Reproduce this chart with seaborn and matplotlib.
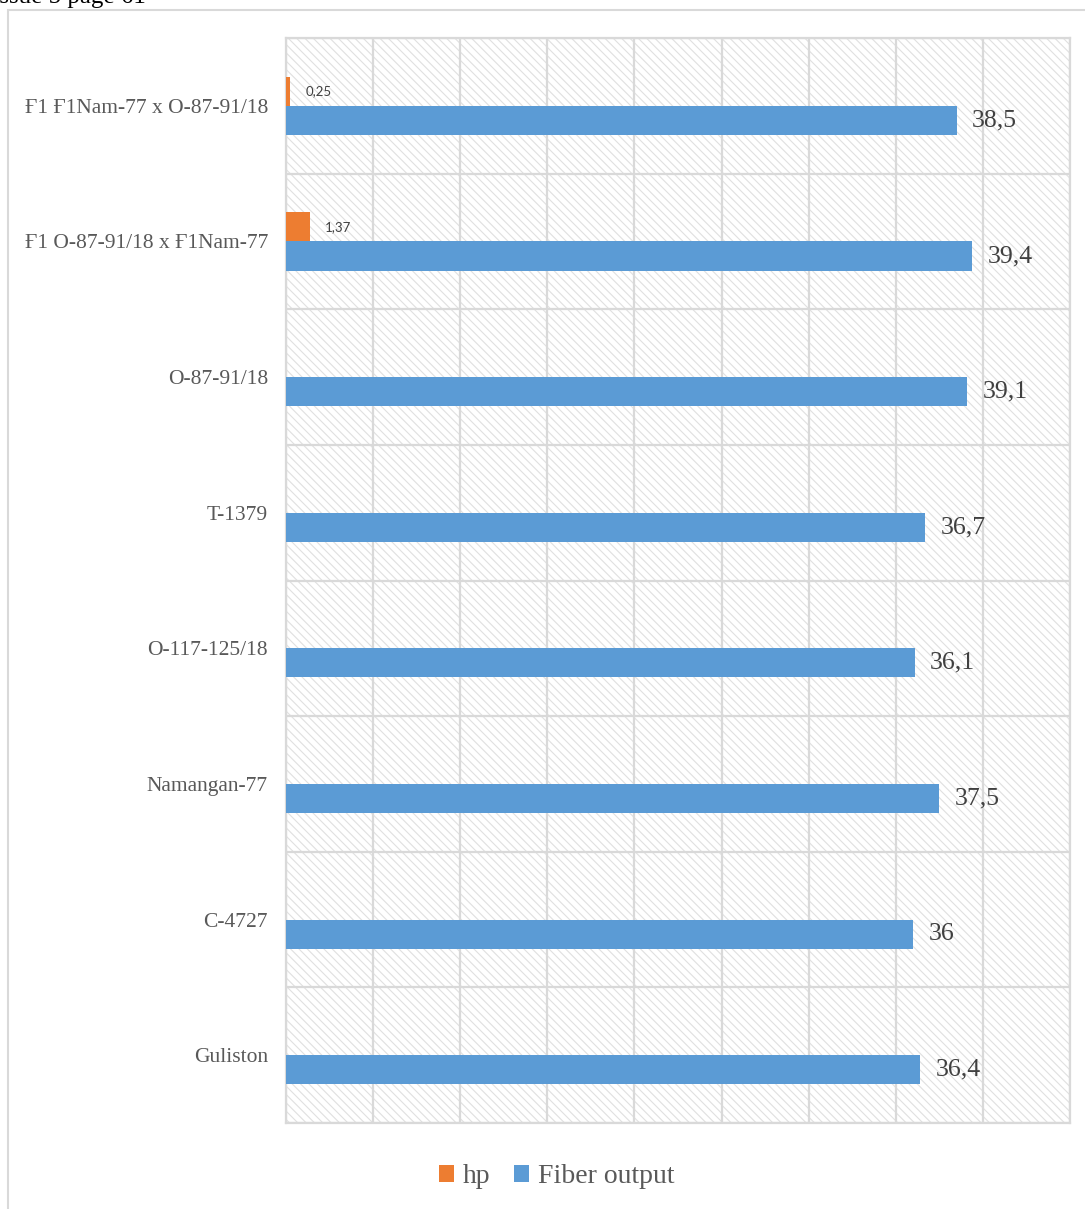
import pandas as pd
import seaborn as sns
import matplotlib.pyplot as plt
import numpy as np
from matplotlib.patches import Rectangle, Patch

# Data (top to bottom as shown)
varieties = [
    "Ғ1 Ғ1Nam-77 x O-87-91/18",
    "Ғ1 O-87-91/18 x Ғ1Nam-77",
    "O-87-91/18",
    "T-1379",
    "O-117-125/18",
    "Namangan-77",
    "C-4727",
    "Guliston",
]
fiber_output = [38.5, 39.4, 39.1, 36.7, 36.1, 37.5, 36.0, 36.4]
hp_varieties = ["Ғ1 Ғ1Nam-77 x O-87-91/18", "Ғ1 O-87-91/18 x Ғ1Nam-77"]
hp_values = [0.25, 1.37]

series = ["hp", "Fiber output"]
colors = {"hp": "#ED7D31", "Fiber output": "#5B9BD5"}

# Long format table for seaborn
df = pd.concat([
    pd.DataFrame({"Variety": hp_varieties, "Value": hp_values, "Series": "hp"}),
    pd.DataFrame({"Variety": varieties, "Value": fiber_output, "Series": "Fiber output"}),
], ignore_index=True)

serif = ["Liberation Serif", "DejaVu Serif"]
text_col = "#595959"
grid_col = "#D9D9D9"
plt.rcParams["hatch.linewidth"] = 0.8

fig = plt.figure(figsize=(10.85, 12.09), dpi=100)
ax = fig.add_axes([286 / 1085, 1 - 1123 / 1209, (1070 - 286) / 1085, (1123 - 38) / 1209])

# hatched plot background
ax.add_patch(Rectangle((0, 0), 1, 1, transform=ax.transAxes, facecolor="white",
                       edgecolor="#E0E0E0", hatch="\\\\\\\\", linewidth=0, zorder=0))

sns.barplot(data=df, y="Variety", x="Value", hue="Series", order=varieties,
            hue_order=series, palette=colors, width=0.43, orient="h",
            saturation=1, legend=False, ax=ax, zorder=3)

ax.set_xlim(0, 45)
ax.set_ylim(len(varieties) - 0.5, -0.5)
ax.set_xticks(np.arange(0, 46, 5))
ax.set_xticklabels([])
ax.set_yticks(np.arange(-0.5, len(varieties), 1), minor=True)
ax.grid(axis="x", which="major", color=grid_col, linewidth=1.6, zorder=1)
ax.grid(axis="y", which="minor", color=grid_col, linewidth=1.6, zorder=1)
ax.set_axisbelow(True)
ax.tick_params(axis="both", which="both", length=0)
ax.tick_params(axis="y", pad=13)
for lbl in ax.get_yticklabels():
    lbl.set_fontfamily(serif)
    lbl.set_fontsize(15.5)
    lbl.set_color(text_col)
for s in ax.spines.values():
    s.set_color(grid_col)
    s.set_linewidth(1.6)
ax.set_xlabel("")
ax.set_ylabel("")

fmt = lambda v: f"{v:g}".replace(".", ",")
for cont in ax.containers:
    if cont.get_label() == "hp" or any(abs(b.get_width() - hp_values[0]) < 1e-9 for b in cont):
        ax.bar_label(cont, fmt=fmt, padding=11, fontsize=9.5, family="Lato", color="#404040")
    else:
        ax.bar_label(cont, fmt=fmt, padding=11, fontsize=18.5, family=serif, color="#404040")

handles = [Patch(facecolor=colors[s], edgecolor="none") for s in series]
fig.legend(handles, series, loc="center", bbox_to_anchor=(0.513, 0.0265), ncol=2,
           frameon=False, handlelength=0.55, handleheight=0.55, handletextpad=0.3,
           columnspacing=0.85, prop={"family": serif, "size": 20}, labelcolor=text_col)

# outer chart frame and page header (cut off in the source)
fig.patches.append(Rectangle((8 / 1085, -0.1), 1.2, 1.1 - 10 / 1209, transform=fig.transFigure,
                             facecolor="none", edgecolor=grid_col, linewidth=1.5, zorder=0))
fig.text(-0.008, 1 - 3 / 1209, "Issue 5 page 61", fontsize=18, family=serif,
         color="black", va="baseline", ha="left")

fig.savefig("out.png", dpi=100)
